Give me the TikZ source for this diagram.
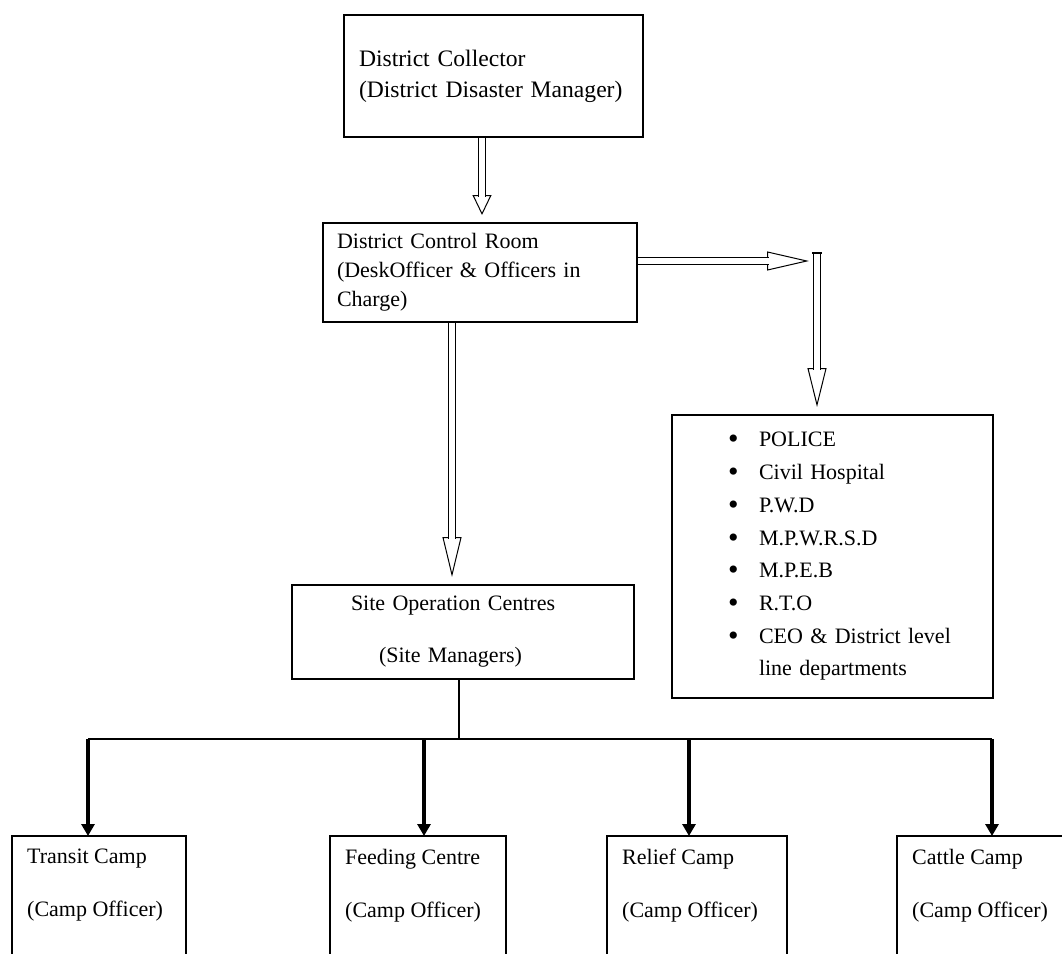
\documentclass[tikz,border=0pt]{standalone}
\usepackage{fontspec}
\setmainfont{Liberation Serif}
\usetikzlibrary{arrows.meta, positioning}

\newcommand{\deptitem}{\hspace*{20pt}\makebox[31pt][l]{\raisebox{-2pt}{\fontsize{30}{30}\selectfont\textbullet}}}

\begin{document}
\begin{tikzpicture}[x=1pt, y=-1pt,
  box/.style={draw, line width=1.8pt, anchor=north west, align=left, inner ysep=0pt, outer sep=0pt},
  hollow/.style={line width=1pt, shorten >=8pt, -{Triangle[open, length=#1, width=19pt]},
    postaction={draw, -, double, double distance=6pt, line width=1.2pt, shorten >=#1+6.5pt, shorten <=1pt}},
  link/.style={line width=1.5pt},
  drop/.style={line width=3.2pt, -{Triangle[length=12pt, width=13pt]}},
  camplabel/.style={anchor=north west, align=left, inner xsep=15pt, inner ysep=13pt,
    font=\fontsize{22}{53}\selectfont}]

  \useasboundingbox (0,0) rectangle (1062,953);

  % top of the chain
  \node[box, minimum width=299, minimum height=122, inner xsep=15, text width=269,
    font=\fontsize{23.6}{31}\selectfont] (dc) at (344,15)
    {District Collector\\(District Disaster Manager)};

  \node[box, minimum width=314, minimum height=99, inner xsep=14, text width=286,
    font=\fontsize{22}{29}\selectfont] (room) at (323,223)
    {District Control Room\\(DeskOfficer \& Officers in\\Charge)};

  \node[box, minimum width=342, minimum height=94, inner xsep=59, text width=224,
    font=\fontsize{22}{52}\selectfont] (site) at (292,585)
    {Site Operation Centres\\\hspace*{28pt}(Site Managers)};

  % line departments
  \node[box, minimum width=321, minimum height=283, inner xsep=36, text width=249,
    font=\fontsize{22}{32.7}\selectfont] (dept) at (672,415)
    {\deptitem POLICE\\
     \deptitem Civil Hospital\\
     \deptitem P.W.D\\
     \deptitem M.P.W.R.S.D\\
     \deptitem M.P.E.B\\
     \deptitem R.T.O\\
     \deptitem CEO \& District level\\
     \hspace*{51pt}line departments};

  % camps, cut by the lower edge
  \node[box, minimum width=174, minimum height=150, label={[camplabel]north west:Transit Camp\\(Camp Officer)}] (tc) at (12,836) {};
  \node[box, minimum width=176, minimum height=150, label={[camplabel]north west:Feeding Centre\\(Camp Officer)}] (fc) at (330,836) {};
  \node[box, minimum width=180, minimum height=150, label={[camplabel]north west:Relief Camp\\(Camp Officer)}] (rc) at (607,836) {};
  \node[box, minimum width=178, minimum height=150, label={[camplabel]north west:Cattle Camp\\(Camp Officer)}] (cc) at (897,836) {};

  % hollow arrows
  \coordinate (a1) at (482,0);
  \coordinate (a2) at (452,0);
  \coordinate (bartop) at (817,253);
  \coordinate (rj) at (817,261);
  \draw[hollow=20pt] (dc.south -| a1) -- (room.north -| a1);
  \draw[hollow=40pt] (room.south -| a2) -- (site.north -| a2);
  \draw[hollow=42pt] (room.east |- rj) -- (rj);
  \draw[hollow=39pt] (bartop) -- (bartop |- dept.north);
  \draw[line width=1.2pt] ([xshift=-4.8pt]bartop) -- ([xshift=4.8pt]bartop);

  % site to camps
  \coordinate (bus) at (459,739);
  \coordinate (d1) at (88,739);
  \coordinate (d2) at (424,739);
  \coordinate (d3) at (689,739);
  \coordinate (d4) at (992,739);
  \draw[link] (site.south -| bus) -- (bus);
  \draw[link] (d1) -- (d4);
  \draw[drop] (d1) -- (d1 |- tc.north);
  \draw[drop] (d2) -- (d2 |- fc.north);
  \draw[drop] (d3) -- (d3 |- rc.north);
  \draw[drop] (d4) -- (d4 |- cc.north);

\end{tikzpicture}
\end{document}
